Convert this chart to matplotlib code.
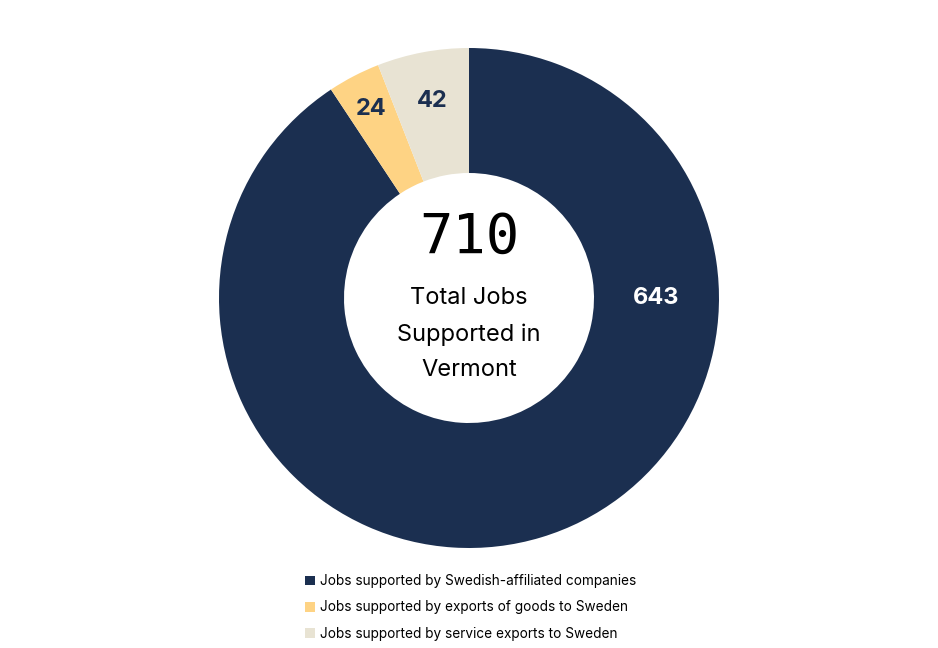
import numpy as np
import matplotlib.pyplot as plt

labels = ["Jobs supported by Swedish-affiliated companies",
          "Jobs supported by exports of goods to Sweden",
          "Jobs supported by service exports to Sweden"]
jobs = [643, 24, 42]
total_label = "710"
center_text = "Total Jobs\nSupported in\nVermont"
colors = ["#1b2f50", "#fed384", "#e8e3d3"]
label_colors = ["white", "#1b2f50", "#1b2f50"]
label_radius = [0.75, 0.85, 0.80]

fig = plt.figure(figsize=(9.38, 6.48), dpi=100)
ax = fig.add_axes([(469 - 250) / 938, (350 - 250) / 648, 500 / 938, 500 / 648])

wedges, _ = ax.pie(jobs, colors=colors, startangle=90, counterclock=False,
                   radius=1.0, wedgeprops=dict(width=0.5, linewidth=0))

# value labels inside the ring (the big slice gets its label at 3 o'clock)
for i, (w, v, r, c) in enumerate(zip(wedges, jobs, label_radius, label_colors)):
    ang = 0.0 if i == 0 else np.deg2rad((w.theta1 + w.theta2) / 2)
    ax.text(r * np.cos(ang), r * np.sin(ang), str(v), ha="center", va="center",
            fontsize=17, fontweight="bold", color=c, family="Inter")

ax.text(0, 0.24, total_label, ha="center", va="center", fontsize=40,
        family="DejaVu Sans Mono", color="black")
ax.text(0, -0.145, center_text, ha="center", va="center", fontsize=17,
        family="Inter", linespacing=1.8, color="black")

ax.set_xlim(-1, 1)
ax.set_ylim(-1, 1)
ax.set_aspect("equal")
ax.axis("off")

leg = fig.legend(wedges, labels, loc="upper left",
                 bbox_to_anchor=(293 / 938, 1 - 562 / 648), frameon=False,
                 handlelength=0.7, handleheight=0.7, handletextpad=0.35,
                 labelspacing=0.9, prop=dict(family="Inter", size=9.8))

fig.savefig("out.png", dpi=100)
